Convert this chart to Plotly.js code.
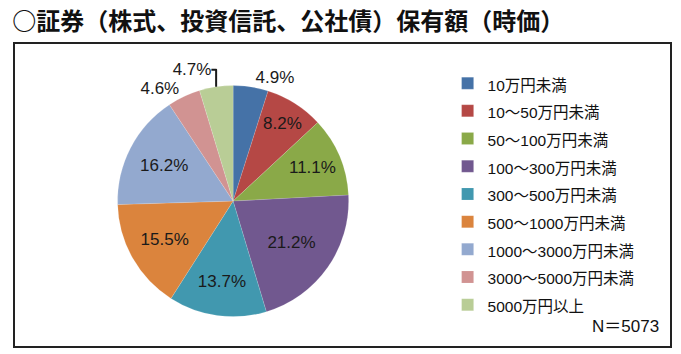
<!DOCTYPE html>
<html>
<head>
<meta charset="utf-8">
<script src="https://cdn.plot.ly/plotly-3.0.1.min.js"></script>
<style>html,body{margin:0;padding:0;background:#fff;}#chart{width:681px;height:354px;}</style>
</head>
<body>
<div id="chart"></div>
<script>
const categories = ["10万円未満","10～50万円未満","50～100万円未満","100～300万円未満","300～500万円未満","500～1000万円未満","1000～3000万円未満","3000～5000万円未満","5000万円以上"];
const shares = [4.9, 8.2, 11.1, 21.2, 13.7, 15.5, 16.2, 4.6, 4.7];
const sliceColors = ["#4572A7","#B54845","#8AA948","#71588F","#4198AF","#DB843D","#93A9CF","#D19392","#B9CD96"];
const labelPositions = ["outside","inside","inside","inside","inside","inside","inside","outside","outside"];
const titleText = "○証券（株式、投資信託、公社債）保有額（時価）";
const sampleNote = "N＝5073";

const fontFam = "'Liberation Sans', Arial, 'Noto Sans CJK JP', sans-serif";

const trace = {
  type: "pie",
  labels: categories.map(c => '<span style="font-size:15.5px">' + c + '</span>'),
  values: shares,
  sort: false,
  direction: "clockwise",
  rotation: 0,
  marker: {colors: sliceColors, line: {color: "rgba(255,255,255,0.25)", width: 0.5}},
  texttemplate: "%{value:.1f}%",
  textposition: labelPositions,
  insidetextorientation: "horizontal",
  textfont: {family: fontFam, size: 17, color: "#1a1a1a"},
  outsidetextfont: {family: fontFam, size: 17, color: "#1a1a1a"},
  hoverinfo: "skip",
  domain: {x: [0.0, 0.667], y: [0.10, 0.86]}
};

const layout = {
  width: 681, height: 354,
  margin: {l: 14, r: 10, t: 43, b: 7},
  paper_bgcolor: "#fff",
  plot_bgcolor: "#fff",
  title: {
    text: "<b>" + titleText + "</b>",
    x: 0.018, xanchor: "left", xref: "container",
    y: 0.94, yanchor: "middle", yref: "container",
    font: {family: "'Noto Sans CJK JP', sans-serif", size: 24, color: "#111"}
  },
  showlegend: true,
  legend: {
    x: 0.66, xanchor: "left", y: 0.93, yanchor: "top",
    font: {family: fontFam, size: 19, color: "#111"},
    bgcolor: "rgba(0,0,0,0)",
    itemwidth: 30,
    traceorder: "normal"
  },
  shapes: [{
    type: "rect", xref: "paper", yref: "paper", x0: 0, x1: 1, y0: 0, y1: 1,
    line: {color: "#222", width: 2}
  }],
  annotations: [{
    text: sampleNote, xref: "paper", yref: "paper", x: 0.985, y: 0.03,
    xanchor: "right", yanchor: "bottom", showarrow: false,
    font: {family: fontFam, size: 17, color: "#111"}
  }]
};

Plotly.newPlot("chart", [trace], layout, {displayModeBar: false, staticPlot: true});
</script>
</body>
</html>
